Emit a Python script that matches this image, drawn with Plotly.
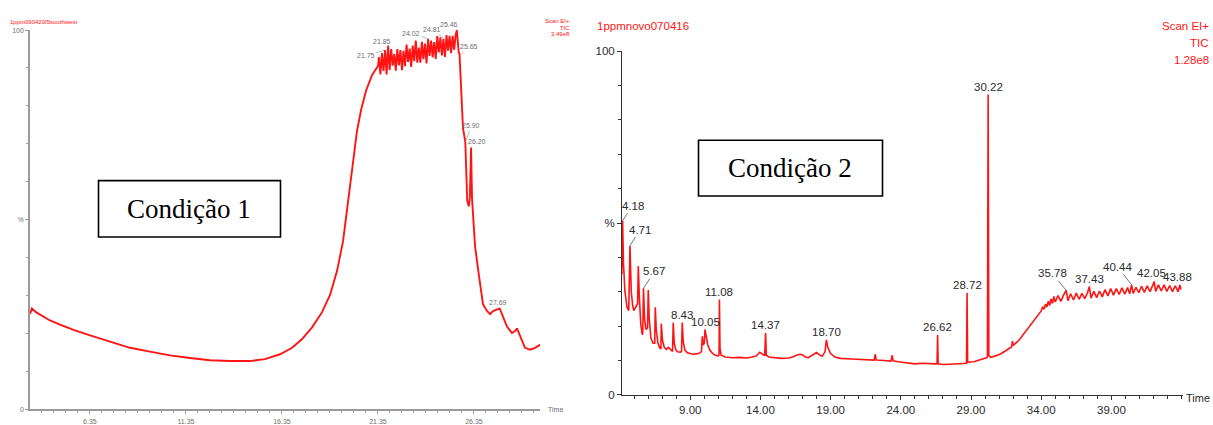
import numpy as np
import plotly.graph_objects as go

# ---------------- DATA ----------------
# Left chromatogram (Condição 1): retention time (min) vs relative intensity (%)
left_t = [3.23, 3.33, 3.54, 3.75, 4.27, 4.79, 5.57, 6.36, 7.40, 8.44, 9.48, 10.52, 11.56, 12.60,
          13.65, 14.69, 15.47, 16.25, 16.88, 17.40, 17.92, 18.44, 18.86, 19.22, 19.53, 19.79,
          20.05, 20.26, 20.47, 20.73, 21.04, 21.36,
          21.40, 21.48, 21.56, 21.64, 21.72, 21.80, 21.88, 21.96, 22.04, 22.12, 22.20, 22.28,
          22.36, 22.44, 22.52, 22.60, 22.68, 22.76, 22.84, 22.92, 23.00, 23.08, 23.16, 23.24,
          23.32, 23.40, 23.48, 23.56, 23.64, 23.72, 23.80, 23.88, 23.96, 24.04, 24.12, 24.20,
          24.28, 24.36, 24.44, 24.52, 24.60, 24.68, 24.76, 24.84, 24.92, 25.00, 25.08, 25.16,
          25.24, 25.32, 25.40, 25.46, 25.55, 25.60, 25.78, 25.90, 26.00, 26.08, 26.14, 26.20,
          26.25, 26.30, 26.41, 26.56, 26.77, 26.82, 27.03, 27.19, 27.34, 27.60, 27.69, 27.81,
          28.07, 28.33, 28.49, 28.59, 28.75, 29.01, 29.27, 29.53, 29.79, 29.90]
left_v = [25.1, 26.6, 25.6, 24.9, 23.4, 22.3, 20.8, 19.5, 17.8, 16.2, 15.2, 14.2, 13.5, 12.9,
          12.7, 12.7, 13.2, 14.5, 16.2, 18.5, 21.6, 25.6, 30.2, 36.5, 44.2, 54.3,
          65.7, 73.4, 78.9, 84.0, 88.1, 90.6,
          92.9, 88.3, 93.9, 89.2, 94.7, 88.3, 95.9, 89.5, 95.0, 90.6, 93.7, 89.3,
          95.0, 90.7, 94.7, 89.4, 94.5, 90.5, 96.2, 91.6, 95.1, 90.3, 95.9, 91.8,
          97.2, 91.4, 95.4, 91.4, 96.9, 92.3, 96.4, 91.2, 97.6, 93.2, 97.2, 92.8,
          96.8, 92.4, 98.4, 94.1, 98.1, 93.3, 97.6, 92.9, 98.7, 94.6, 98.5, 93.9,
          98.5, 94.8, 98.8, 100.0, 94.5, 93.5, 74.1, 70.5, 55.0, 53.5, 56.0, 69.0,
          55.5, 51.3, 42.9, 37.1, 30.2, 27.7, 25.9, 25.1, 25.9, 26.4, 26.6, 25.1,
          21.8, 20.1, 20.6, 21.3, 19.3, 16.2, 15.7, 16.2, 17.0, 16.8]

left_peaks = ["21.75", "21.85", "24.02", "24.81", "25.46", "25.65", "25.90", "26.20", "27.69"]

# Right chromatogram (Condição 2)
right_t = [4.13, 4.18, 4.25, 4.35, 4.50, 4.62, 4.71, 4.80, 4.90, 4.98, 5.25, 5.30, 5.38, 5.48,
           5.58, 5.62, 5.67, 5.75, 5.85, 5.96, 6.01, 6.08, 6.20, 6.35, 6.47, 6.51, 6.58, 6.70,
           6.85, 6.91, 6.94, 7.02, 7.15, 7.30, 7.45, 7.60, 7.74, 7.79, 7.86, 7.98, 8.10, 8.30,
           8.38, 8.43, 8.50, 8.62, 8.80, 9.00, 9.20, 9.40, 9.60, 9.80, 9.86, 9.92, 10.00, 10.05,
           10.12, 10.25, 10.40, 10.60, 10.80, 11.00, 11.05, 11.08, 11.12, 11.20, 11.50, 12.00,
           12.50, 13.00, 13.40, 13.70, 13.95, 14.10, 14.30, 14.37, 14.42, 14.60, 15.00, 15.50,
           16.00, 16.30, 16.60, 16.84, 17.00, 17.20, 17.40, 17.70, 18.00, 18.20, 18.40, 18.60,
           18.70, 18.80, 19.00, 19.30, 19.70, 20.50, 21.50, 22.10, 22.18, 22.25, 22.80, 23.30,
           23.39, 23.45, 23.80, 24.50, 25.00, 25.50, 26.00, 26.50, 26.58, 26.62, 26.66, 27.00,
           27.50, 28.00, 28.60, 28.68, 28.72, 28.76, 29.20, 29.70, 30.10, 30.17, 30.22, 30.27,
           30.40, 30.80, 31.10, 31.50, 31.90, 31.95, 32.00, 32.40, 32.80, 33.20, 33.50, 33.80,
           34.00, 34.10, 34.20, 34.30, 34.40, 34.50, 34.60, 34.70, 34.80, 34.90, 35.00, 35.20,
           35.40, 35.60, 35.78, 35.90, 36.10, 36.30, 36.50, 36.70, 36.90, 37.10, 37.30, 37.43,
           37.55, 37.75, 37.95, 38.15, 38.35, 38.55, 38.75, 38.95, 39.15, 39.35, 39.55, 39.75,
           39.95, 40.15, 40.30, 40.44, 40.55, 40.75, 40.95, 41.15, 41.35, 41.55, 41.75, 41.95,
           42.05, 42.15, 42.35, 42.55, 42.75, 42.95, 43.15, 43.35, 43.55, 43.75, 43.88, 43.95]
right_v = [35.0, 50.7, 38.0, 30.0, 25.5, 24.5, 43.4, 30.0, 26.0, 24.5, 26.5, 37.5, 28.0, 20.5,
           17.5, 18.0, 31.0, 22.0, 19.0, 19.5, 30.5, 22.0, 16.5, 15.0, 15.0, 25.5, 19.0, 15.0,
           13.5, 13.5, 20.7, 16.0, 13.8, 13.2, 13.8, 13.0, 12.6, 21.0, 15.0, 13.0, 12.5, 12.4,
           12.6, 21.0, 15.5, 13.0, 12.2, 12.0, 11.8, 11.9, 12.0, 12.5, 17.0, 14.5, 15.0, 19.0,
           17.0, 14.5, 13.0, 12.0, 11.5, 11.3, 11.5, 27.7, 13.5, 11.5, 11.0, 10.8,
           10.9, 10.7, 11.0, 11.3, 12.4, 12.0, 11.4, 18.0, 11.5, 11.0, 10.8, 10.6,
           10.7, 11.0, 11.6, 11.8, 11.6, 11.0, 10.8, 11.5, 12.3, 11.6, 11.2, 12.5,
           16.0, 13.8, 12.0, 11.0, 10.6, 10.4, 10.2, 10.1, 11.8, 10.1, 10.0, 9.8,
           11.5, 9.9, 9.6, 9.3, 9.0, 9.2, 9.0, 9.0, 9.1, 17.4, 9.0, 8.8,
           8.9, 9.0, 9.2, 9.2, 29.7, 9.5, 9.6, 10.2, 10.8, 11.0, 87.4, 11.5,
           10.9, 11.4, 11.9, 12.9, 14.0, 15.6, 14.4, 15.8, 18.0, 20.0, 21.8, 23.2,
           24.4, 25.6, 24.9, 26.4, 25.5, 27.2, 26.0, 27.9, 26.6, 28.6, 27.0, 28.9,
           27.2, 29.1, 30.4, 27.4, 29.4, 27.6, 29.6, 27.8, 29.5, 28.0, 29.7, 31.5,
           28.1, 30.1, 28.3, 30.2, 28.5, 30.6, 28.8, 30.9, 29.0, 30.9, 29.2, 31.1,
           29.3, 31.2, 29.4, 32.0, 29.5, 31.3, 29.7, 31.6, 29.8, 31.7, 30.0, 31.9,
           33.0, 30.1, 32.0, 30.2, 32.0, 30.1, 31.8, 30.0, 31.7, 30.0, 32.0, 30.6]

right_peaks = ["4.18", "4.71", "5.67", "8.43", "10.05", "11.08", "14.37", "18.70", "26.62",
               "28.72", "30.22", "35.78", "37.43", "40.44", "42.05", "43.88"]

left_xticks = [6.35, 11.35, 16.35, 21.35, 26.35]
left_xtick_text = ["6.35", "11.35", "16.35", "21.35", "26.35"]
right_xticks = [9, 14, 19, 24, 29, 34, 39]
right_xtick_text = ["9.00", "14.00", "19.00", "24.00", "29.00", "34.00", "39.00"]
yticks = [0, 50, 100]
ytick_text = ["0", "%", "100"]

# ---------------- STYLE ----------------
W, H = 1213, 425
LGREY = "#9a9a9a"
LTXT = "#6e6e6e"
RTXT = "#2a2a2a"
RED = "#ff1414"
SANS = "Liberation Sans Narrow, Arial Narrow, Liberation Sans, Arial, sans-serif"
SERIF = "Liberation Serif, Times New Roman, serif"


def px(x):
    return x / W


def py(y):
    return (H - y) / H


def peak_value(ts, vs, label):
    t = float(label)
    ts = np.asarray(ts)
    vs = np.asarray(vs)
    m = np.abs(ts - t) <= 0.06
    if not m.any():
        return float(np.interp(t, ts, vs))
    return float(vs[m].max())


fig = go.Figure()
fig.add_trace(go.Scatter(x=left_t, y=left_v, xaxis="x", yaxis="y", mode="lines",
                         line=dict(color=RED, width=1.9), hoverinfo="skip"))
fig.add_trace(go.Scatter(x=right_t, y=right_v, xaxis="x2", yaxis="y2", mode="lines",
                         line=dict(color=RED, width=1.6), hoverinfo="skip"))

annotations = []

# left peak labels: (ax, ay) pixel offsets of the label, None = no leader line
left_offsets = {"21.75": (-20, 5), "21.85": (-6, -4), "24.02": (-18, -6), "24.81": (-12, -10),
                "25.46": None, "25.65": (8, -8), "25.90": (6, -16), "26.20": (6, -6), "27.69": None}
for lab in left_peaks:
    v = peak_value(left_t, left_v, lab)
    off = left_offsets[lab]
    common = dict(x=float(lab), y=v, xref="x", yref="y", text=lab,
                  font=dict(family=SANS, size=7, color=LTXT))
    if off is None:
        xs = -8 if lab == "25.46" else -2
        annotations.append(dict(common, showarrow=False, yanchor="bottom", xanchor="center",
                                xshift=xs, yshift=0))
    else:
        annotations.append(dict(common, showarrow=True, arrowhead=0, arrowwidth=0.6,
                                arrowcolor="#888", ax=off[0], ay=off[1], standoff=0))

right_offsets = {"4.18": (10, -15), "4.71": (10, -16), "5.67": (11, -17),
                 "35.78": (-14, -17), "40.44": (-14, -18)}
right_shift = {"42.05": -3, "43.88": -2, "10.05": 1}
for lab in right_peaks:
    v = peak_value(right_t, right_v, lab)
    common = dict(x=float(lab), y=v, xref="x2", yref="y2", text=lab,
                  font=dict(family=SANS, size=11.5, color=RTXT))
    if lab in right_offsets:
        ax, ay = right_offsets[lab]
        annotations.append(dict(common, showarrow=True, arrowhead=0, arrowwidth=0.8,
                                arrowcolor="#555", ax=ax, ay=ay, standoff=0))
    else:
        annotations.append(dict(common, showarrow=False, yanchor="bottom", xanchor="center",
                                xshift=right_shift.get(lab, 0), yshift=0))

# "Time" labels at end of x axes
annotations.append(dict(text="Time", xref="x domain", yref="y domain", x=1, y=0,
                        xanchor="left", yanchor="middle", xshift=6, yshift=0, showarrow=False,
                        font=dict(family=SANS, size=7, color=LTXT)))
annotations.append(dict(text="Time", xref="x2 domain", yref="y2 domain", x=1, y=0,
                        xanchor="left", yanchor="middle", xshift=1, yshift=-3, showarrow=False,
                        font=dict(family=SANS, size=11, color=RTXT)))

# headers
annotations += [
    dict(text="1ppm090420I5southwest", xref="paper", yref="paper", x=px(8), y=py(17),
         xanchor="left", yanchor="middle", showarrow=False,
         font=dict(family=SANS, size=6, color=RED)),
    dict(text="Scan EI+", xref="paper", yref="paper", x=px(572), y=py(16),
         xanchor="right", yanchor="middle", showarrow=False,
         font=dict(family=SANS, size=6, color=RED)),
    dict(text="TIC", xref="paper", yref="paper", x=px(572), y=py(22.5),
         xanchor="right", yanchor="middle", showarrow=False,
         font=dict(family=SANS, size=6, color=RED)),
    dict(text="3.49e8", xref="paper", yref="paper", x=px(572), y=py(29),
         xanchor="right", yanchor="middle", showarrow=False,
         font=dict(family=SANS, size=6, color=RED)),
    dict(text="1ppmnovo070416", xref="paper", yref="paper", x=px(595), y=py(21),
         xanchor="left", yanchor="middle", showarrow=False,
         font=dict(family=SANS, size=11.5, color=RED)),
    dict(text="Scan EI+", xref="paper", yref="paper", x=px(1211), y=py(21),
         xanchor="right", yanchor="middle", showarrow=False,
         font=dict(family=SANS, size=11.5, color=RED)),
    dict(text="TIC", xref="paper", yref="paper", x=px(1211), y=py(38),
         xanchor="right", yanchor="middle", showarrow=False,
         font=dict(family=SANS, size=11.5, color=RED)),
    dict(text="1.28e8", xref="paper", yref="paper", x=px(1211), y=py(56),
         xanchor="right", yanchor="middle", showarrow=False,
         font=dict(family=SANS, size=11.5, color=RED)),
]

# condition boxes
annotations += [
    dict(text="Condição 1", xref="paper", yref="paper", x=px(189), y=py(211),
         xanchor="center", yanchor="middle", showarrow=False,
         font=dict(family=SERIF, size=27, color="#000")),
    dict(text="Condição 2", xref="paper", yref="paper", x=px(790), y=py(168),
         xanchor="center", yanchor="middle", showarrow=False,
         font=dict(family=SERIF, size=27, color="#000")),
]
shapes = [
    dict(type="rect", xref="paper", yref="paper", x0=px(98.5), x1=px(280.5), y0=py(240), y1=py(181.5),
         line=dict(color="#000", width=1.6), fillcolor="white", layer="below"),
    dict(type="rect", xref="paper", yref="paper", x0=px(698.5), x1=px(882.5), y0=py(197.5), y1=py(139.5),
         line=dict(color="#000", width=1.6), fillcolor="white", layer="below"),
]

fig.update_layout(
    width=W, height=H, margin=dict(l=0, r=0, t=0, b=0),
    paper_bgcolor="white", plot_bgcolor="rgba(0,0,0,0)", showlegend=False,
    annotations=annotations, shapes=shapes,
    xaxis=dict(domain=[px(30), px(540)], range=[3.23, 29.79], anchor="y",
               showgrid=False, zeroline=False, showline=True, linecolor=LGREY, linewidth=1.5,
               ticks="outside", ticklen=3, tickcolor=LGREY, tickwidth=1,
               tickvals=left_xticks, ticktext=left_xtick_text, ticklabelstandoff=2,
               tickfont=dict(family=SANS, size=7, color=LTXT),
               minor=dict(ticks="outside", dtick=0.625, tick0=6.35, ticklen=2, tickcolor=LGREY)),
    yaxis=dict(domain=[py(419), py(25)], range=[0, 100], anchor="x",
               showgrid=False, zeroline=False, showline=True, linecolor=LGREY, linewidth=1.5,
               ticks="outside", ticklen=3, tickcolor=LGREY,
               tickvals=yticks, ticktext=ytick_text,
               tickfont=dict(family=SANS, size=7, color=LTXT),
               minor=dict(ticks="outside", dtick=10, ticklen=2, tickcolor=LGREY)),
    xaxis2=dict(domain=[px(622), px(1183)], range=[4.14, 44.1], anchor="y2",
                showgrid=False, zeroline=False, showline=True, linecolor="#333", linewidth=1,
                ticks="outside", ticklen=4, tickcolor="#333",
                tickvals=right_xticks, ticktext=right_xtick_text,
                tickfont=dict(family=SANS, size=11.5, color=RTXT),
                minor=dict(ticks="outside", dtick=1, tick0=4, ticklen=3, tickcolor="#333")),
    yaxis2=dict(domain=[py(404), py(47)], range=[0, 100], anchor="x2",
                showgrid=False, zeroline=False, showline=True, linecolor="#333", linewidth=1,
                ticks="outside", ticklen=4, tickcolor="#333",
                tickvals=yticks, ticktext=ytick_text,
                tickfont=dict(family=SANS, size=11.5, color=RTXT),
                minor=dict(ticks="outside", dtick=10, ticklen=3, tickcolor="#333")),
)

fig.write_html("out.html")
